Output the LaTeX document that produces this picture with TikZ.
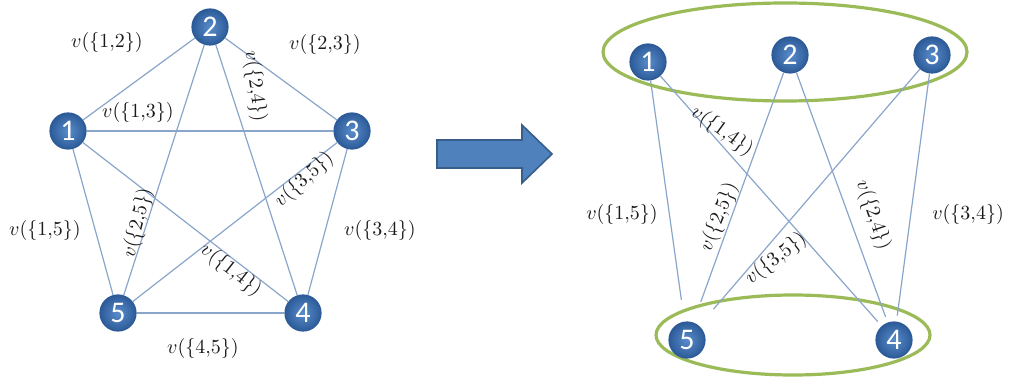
\documentclass[tikz,border=0pt]{standalone}
\usepackage{fontspec}
\newfontfamily\numfont{Carlito}
\usetikzlibrary{shapes.geometric}
\definecolor{vtxouter}{HTML}{2C5B98}
\definecolor{vtxinner}{HTML}{5A8CCB}
\definecolor{edgecol}{HTML}{8AA5CA}
\definecolor{setgreen}{HTML}{9BBB59}
\definecolor{arrowfill}{HTML}{4F81BD}
\definecolor{arrowline}{HTML}{385D8A}
\tikzset{
  vtx/.style={circle, minimum size=18pt, inner sep=0pt,
    inner color=vtxinner, outer color=vtxouter, draw=vtxouter, line width=0.6pt,
    text=white, font=\numfont\fontsize{15}{15}\selectfont},
  edge/.style={draw=edgecol, line width=0.6pt},
  wlab/.style={inner sep=1pt, font=\fontsize{10}{10}\selectfont, text=black!90},
  group/.style={ellipse, draw=setgreen, line width=1.6pt, inner sep=0pt}
}
\newcommand{\val}[1]{$v(\{#1\})$}
\begin{document}
\begin{tikzpicture}[x=0.5pt, y=-0.5pt]
\useasboundingbox (0,0) rectangle (1010,379);

% ---- complete graph on five vertices ----
\node[vtx] (a1) at (68,131) {1};
\node[vtx] (a2) at (210,27) {2};
\node[vtx] (a3) at (352,131) {3};
\node[vtx] (a4) at (303,313) {4};
\node[vtx] (a5) at (118,313) {5};

\foreach \p/\q in {a1/a2, a2/a3, a1/a3, a3/a4, a4/a5, a1/a5, a1/a4, a2/a4, a2/a5, a3/a5}
  \path[edge] (\p) -- (\q);

\node[wlab] (l12) at (107,43) {\val{1{,}2}};
\node[wlab] (l23) at (325,45) {\val{2{,}3}};
\node[wlab] (l13) at (138,113) {\val{1{,}3}};
\node[wlab, rotate=-83] (l24) at (255,86) {\val{2{,}4}};
\node[wlab, rotate=42] (l35) at (304,180) {\val{3{,}5}};
\node[wlab, rotate=76] (l25) at (138,223) {\val{2{,}5}};
\node[wlab] (l15) at (45,230) {\val{1{,}5}};
\node[wlab] (l34) at (380,230) {\val{3{,}4}};
\node[wlab, rotate=-38] (l14) at (231,270) {\val{1{,}4}};
\node[wlab] (l45) at (203,348) {\val{4{,}5}};

% ---- block arrow ----
\path[fill=arrowfill, draw=arrowline, line width=0.8pt, line join=miter]
  (437,140) -- (522,140) -- (522,125) -- (552,154) -- (522,183) -- (522,168) -- (437,168) -- cycle;

% ---- bipartite cut ----
\node[group, minimum width=182pt, minimum height=49pt] (top) at (785,52) {};
\node[group, minimum width=137pt, minimum height=40pt] (bot) at (793,335) {};

\node[vtx] (b1) at (648,62) {1};
\node[vtx] (b2) at (790,55) {2};
\node[vtx] (b3) at (932,55) {3};
\node[vtx] (b5) at (687,340) {5};
\node[vtx] (b4) at (894,340) {4};

\path[edge, shorten >=11pt] (b1) -- (b5);
\path[edge, shorten >=11pt] (b2) -- (b5);
\path[edge, shorten >=11pt] (b3) -- (b5);
\path[edge, shorten >=3pt] (b1) -- (b4);
\path[edge, shorten >=3pt] (b2) -- (b4);
\path[edge, shorten >=3pt] (b3) -- (b4);

\node[wlab, rotate=-36] (r14) at (722,131) {\val{1{,}4}};
\node[wlab, rotate=68] (r25) at (719,217) {\val{2{,}5}};
\node[wlab] (r15) at (622,215) {\val{1{,}5}};
\node[wlab, rotate=38] (r35) at (776,259) {\val{3{,}5}};
\node[wlab, rotate=-71] (r24) at (873,215) {\val{2{,}4}};
\node[wlab] (r34) at (968,215) {\val{3{,}4}};
\end{tikzpicture}
\end{document}
